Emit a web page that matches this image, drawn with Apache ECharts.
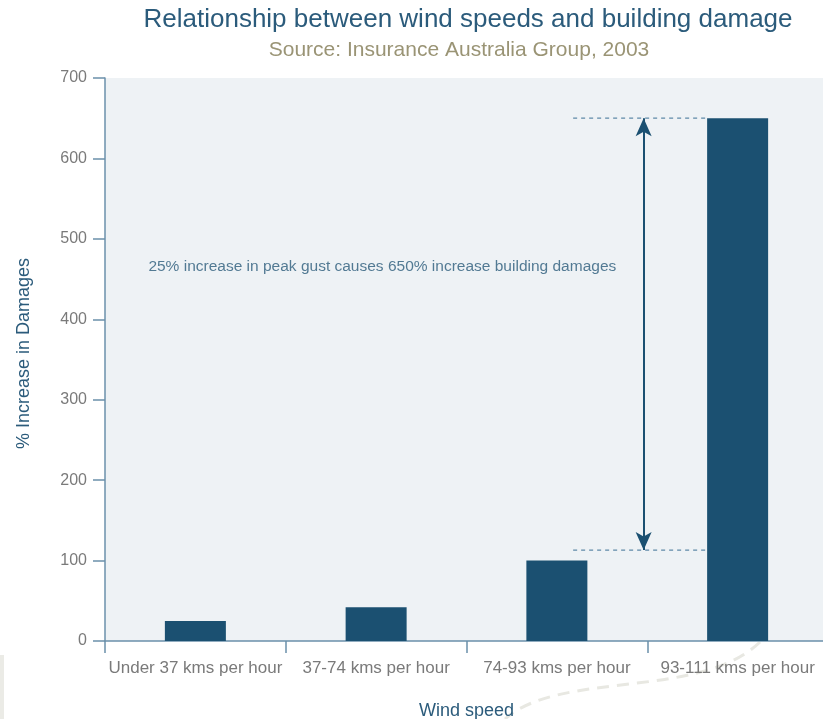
<!DOCTYPE html>
<html>
<head>
<meta charset="utf-8">
<script src="https://cdn.jsdelivr.net/npm/echarts@6/dist/echarts.min.js"></script>
<style>html,body{margin:0;padding:0;background:#fff;}#c{width:823px;height:719px;}</style>
</head>
<body>
<div id="c"></div>
<script>
const categories = ['Under 37 kms per hour', '37-74 kms per hour', '74-93 kms per hour', '93-111 kms per hour'];
const damageValues = [25, 42, 100, 650];
const yTicks = { min: 0, max: 700, interval: 100 };
// annotation (x in category-index units, y in % increase)
const guideTop = [[2.09, 650], [2.83, 650]];
const guideBottom = [[2.09, 113], [2.83, 113]];
const arrowX = 2.48;
const arrowRange = [113, 650];
const noteText = '25% increase in peak gust causes 650% increase building damages';
const notePos = [-0.26, 465];

const FONT = 'Liberation Sans, Arial, sans-serif';
const chart = echarts.init(document.getElementById('c'));
chart.setOption({
  animation: false,
  backgroundColor: '#ffffff',
  title: [
    { text: 'Relationship between wind speeds and building damage', left: 463, textAlign: 'center', top: 2,
      textStyle: { color: '#2b5b7b', fontSize: 26, fontWeight: 'normal', fontFamily: FONT } },
    { text: 'Source: Insurance Australia Group, 2003', left: 454, textAlign: 'center', top: 35,
      textStyle: { color: '#9a9475', fontSize: 21, fontWeight: 'normal', fontFamily: FONT } }
  ],
  graphic: [
    { type: 'rect', left: 0, top: 655, shape: { width: 4, height: 64 }, style: { fill: '#ebebe6' }, z: -10 },
    { type: 'bezierCurve', z: -10, shape: { x1: 760, y1: 642, cpx1: 700, cpy1: 700, cpx2: 560, cpy2: 670, x2: 505, y2: 719 },
      style: { stroke: '#e8e8e2', lineWidth: 3, lineDash: [12, 8], fill: 'none' } }
  ],
  grid: { left: 105, top: 78, width: 723, height: 563, show: true, backgroundColor: '#eef2f5', borderWidth: 0,
    outerBoundsMode: 'none', containLabel: false },
  xAxis: [
    { type: 'category', data: categories,
      name: 'Wind speed', nameLocation: 'middle', nameGap: 61,
      nameTextStyle: { color: '#2b5b7b', fontSize: 18, fontFamily: FONT },
      axisLine: { lineStyle: { color: '#6b90ab', width: 1.5 } },
      axisTick: { show: true, length: 12, lineStyle: { color: '#6b90ab', width: 1.5 } },
      axisLabel: { color: '#7a7a7a', fontSize: 17, margin: 19, interval: 0, fontFamily: FONT }
    },
    { type: 'value', min: -0.5, max: 3.5, show: false }
  ],
  yAxis: {
    type: 'value', min: yTicks.min, max: yTicks.max, interval: yTicks.interval,
    name: '% Increase in Damages', nameLocation: 'middle', nameGap: 72,
    nameTextStyle: { color: '#2b5b7b', fontSize: 18, fontFamily: FONT, padding: [0, 0, 0, 12] },
    axisLine: { show: true, onZero: false, lineStyle: { color: '#6b90ab', width: 1.5 } },
    axisTick: { show: true, length: 12, lineStyle: { color: '#6b90ab', width: 1.5 } },
    axisLabel: { color: '#7a7a7a', fontSize: 16, margin: 18, fontFamily: FONT },
    splitLine: { show: false }
  },
  series: [
    { type: 'bar', data: damageValues, barWidth: 61, itemStyle: { color: '#1b5071' }, xAxisIndex: 0 },
    { type: 'line', xAxisIndex: 1, data: guideTop, symbol: 'none', silent: true,
      lineStyle: { color: '#5f89a8', width: 1.2, type: [4, 4] } },
    { type: 'line', xAxisIndex: 1, data: guideBottom, symbol: 'none', silent: true,
      lineStyle: { color: '#5f89a8', width: 1.2, type: [4, 4] },
      markLine: { silent: true, symbol: ['arrow', 'arrow'], symbolSize: [12, 18],
        label: { show: false },
        lineStyle: { color: '#1b5071', width: 2, type: 'solid' },
        data: [[{ coord: [arrowX, arrowRange[0]] }, { coord: [arrowX, arrowRange[1]] }]] } },
    { type: 'scatter', xAxisIndex: 1, data: [notePos], symbolSize: 0, silent: true,
      label: { show: true, position: 'right', distance: 0, formatter: noteText,
        color: '#2b5b7b', fontSize: 15.5, fontFamily: FONT } }
  ]
});
</script>
</body>
</html>
